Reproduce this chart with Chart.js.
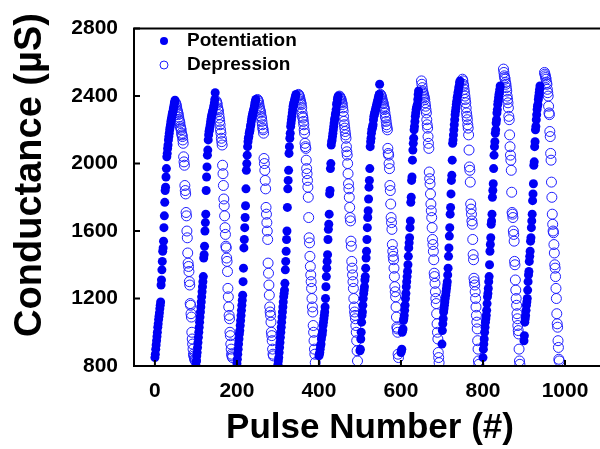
<!DOCTYPE html>
<html lang="en">
  <head>
    <meta charset="UTF-8">
    <title>Conductance vs pulse number</title>
    <style>
      html, body { margin: 0; padding: 0; overflow: hidden; background: #fff; }
      #wrap { width: 612px; height: 449px; position: relative; }
    </style>
  </head>
  <body>
    <div id="wrap"><canvas id="myChart"></canvas></div>

    <script src="https://cdn.jsdelivr.net/npm/chart.js"></script>
    <script>
      // pulse number where each cycle starts; depression starts 50 pulses later
      const cycleStart = [0, 100, 200, 300, 400, 500, 600, 700, 800, 900];
      const depOffset = 50;
      const xTicks = [0, 200, 400, 600, 800, 1000];
      const yTicks = [800, 1200, 1600, 2000, 2400, 2800];

      // potentiation (µS), one array per cycle
      const p1 = [850,870,900,925,950,975,1000,1030,1050,1075,1095,1115,1140,1160,1180,1280,1310,1370,1420,1480,1500,1540,1620,1690,1770,1840,1860,1920,1970,2040,2060,2090,2110,2140,2160,2180,2200,2215,2230,2250,2260,2275,2290,2300,2310,2325,2335,2350,2360,2375];
      const p2 = [805,830,860,880,910,940,970,1000,1030,1060,1090,1120,1150,1180,1210,1240,1270,1300,1330,1440,1460,1510,1600,1650,1700,1840,1920,1980,2050,2080,2140,2170,2190,2200,2215,2230,2250,2265,2280,2290,2300,2310,2320,2330,2345,2360,2380,2420];
      const p3 = [815,840,870,900,930,960,990,1010,1040,1070,1100,1130,1160,1190,1220,1300,1380,1500,1550,1620,1680,1750,1850,1960,2000,2050,2100,2130,2150,2160,2180,2190,2200,2220,2230,2250,2265,2280,2290,2300,2310,2320,2330,2345,2360,2370,2380];
      const p4 = [810,830,850,880,910,940,970,1000,1030,1060,1090,1120,1150,1180,1210,1230,1250,1290,1370,1420,1480,1550,1600,1740,1850,1900,1960,2060,2100,2150,2180,2220,2240,2260,2280,2300,2320,2340,2350,2360,2370,2380,2390,2400,2410];
      const p5 = [860,870,880,900,920,930,960,980,990,1010,1040,1060,1080,1100,1120,1150,1200,1270,1330,1380,1420,1460,1550,1610,1640,1700,1820,1840,1970,2000,2110,2130,2140,2160,2180,2200,2220,2240,2260,2270,2290,2300,2320,2350,2360,2380,2390,2400];
      const p6 = [890,900,960,1000,1060,1100,1120,1160,1200,1230,1250,1270,1310,1330,1380,1440,1480,1550,1620,1680,1720,1790,1860,1900,1970,2100,2130,2150,2180,2200,2210,2220,2230,2260,2280,2290,2300,2310,2320,2330,2340,2350,2360,2370,2380,2390,2400,2410,2470];
      const p7 = [880,890,900,1000,1010,1020,1070,1080,1100,1130,1160,1200,1230,1270,1300,1330,1360,1400,1450,1500,1530,1560,1620,1660,1770,1800,1900,1920,2020,2080,2120,2150,2200,2220,2250,2280,2300,2320,2330,2340,2350,2380,2410,2430];
      const p8 = [930,1010,1050,1080,1120,1140,1160,1180,1200,1220,1240,1260,1280,1300,1340,1380,1450,1500,1570,1620,1700,1740,1820,1900,1930,2020,2120,2140,2170,2200,2230,2260,2290,2310,2330,2350,2370,2390,2400,2420,2430,2450,2460,2480,2490];
      const p9 = [850,900,930,960,1000,1030,1060,1080,1100,1130,1170,1210,1230,1260,1300,1330,1400,1480,1520,1560,1640,1660,1700,1800,1840,1880,1970,2050,2100,2130,2180,2200,2240,2260,2300,2320,2350,2370,2390,2410,2420,2440,2460];
      const p10 = [950,980,1060,1080,1100,1130,1160,1180,1200,1250,1300,1340,1360,1420,1450,1480,1540,1560,1620,1660,1700,1780,1820,1880,1990,2010,2100,2130,2200,2220,2260,2290,2320,2340,2350,2380,2400,2420,2440,2460];

      // depression (µS), one array per cycle
      const d1 = [2360,2355,2345,2335,2320,2310,2300,2290,2275,2260,2250,2240,2220,2210,2200,2180,2170,2160,2140,2120,2040,2010,1990,1870,1840,1820,1710,1690,1600,1560,1470,1410,1390,1360,1300,1280,1170,1160,1110,1090,1000,960,930,900,870,860,850,840,835,830];
      const d2 = [2370,2360,2350,2330,2320,2310,2290,2270,2250,2230,2200,2180,2150,2130,2110,1990,1940,1870,1790,1750,1690,1620,1580,1510,1500,1440,1420,1360,1260,1210,1150,1100,1080,1000,980,930,900,870,860,850];
      const d3 = [2380,2375,2370,2360,2345,2330,2320,2310,2300,2280,2270,2250,2230,2210,2200,2180,2030,2000,1960,1900,1850,1740,1700,1650,1600,1550,1410,1350,1280,1220,1150,1120,1100,1060,1000,980,950,900,870,860];
      const d4 = [2410,2405,2400,2390,2380,2370,2360,2350,2330,2300,2280,2270,2250,2230,2200,2180,2120,2100,2090,2020,1970,1940,1900,1860,1800,1680,1560,1530,1450,1390,1340,1300,1260,1200,1150,1120,1040,1000,950,900,870,820];
      const d5 = [2400,2395,2390,2385,2380,2370,2360,2350,2330,2310,2280,2250,2230,2210,2190,2170,2150,2100,2070,2050,2000,1940,1880,1850,1800,1740,1680,1660,1540,1510,1420,1380,1340,1300,1260,1200,1150,1120,1100,1080,1040,1000,950,890,830];
      const d6 = [2410,2405,2400,2390,2380,2370,2360,2355,2340,2330,2320,2300,2280,2270,2250,2230,2215,2200,2090,2060,2050,2000,1970,1870,1840,1760,1680,1650,1610,1520,1480,1450,1430,1380,1330,1270,1240,1210,1150,1090,1030,1020,1000,870,850];
      const d7 = [2490,2470,2450,2430,2420,2410,2400,2390,2380,2360,2340,2320,2300,2260,2230,2210,2160,2120,2090,1950,1910,1880,1820,1760,1720,1680,1620,1550,1520,1480,1430,1350,1330,1290,1240,1200,1170,1110,1050,1000,960,880,850,820];
      const d8 = [2500,2490,2470,2460,2440,2420,2400,2380,2360,2330,2300,2280,2260,2230,2210,2170,2080,1980,1960,1890,1760,1730,1700,1660,1640,1550,1460,1430,1320,1300,1280,1240,1200,1150,1100,1060,1020,950,900,830,810];
      const d9 = [2560,2540,2520,2510,2500,2480,2470,2450,2430,2400,2380,2360,2330,2280,2260,2170,2100,2050,2020,1960,1830,1710,1700,1680,1600,1580,1540,1420,1400,1310,1250,1200,1160,1110,1080,1040,1010,990,900,830,810];
      const d10 = [2540,2530,2520,2510,2500,2480,2470,2440,2420,2400,2340,2300,2290,2190,2160,2060,2020,1890,1800,1700,1640,1600,1590,1520,1470,1400,1380,1330,1260,1200,1110,1050,1030,950,910,840,830];

      const potCycles = [p1, p2, p3, p4, p5, p6, p7, p8, p9, p10];
      const depCycles = [d1, d2, d3, d4, d5, d6, d7, d8, d9, d10];

      const yTitle = "Conductance (µS)";
      const xTitle = "Pulse Number (#)";

      function toPoints(cycles, offset) {
        const pts = [];
        cycles.forEach((vals, k) => {
          vals.forEach((v, i) => pts.push({ x: cycleStart[k] + offset + i, y: v }));
        });
        return pts;
      }

      const FONT = "'Liberation Sans', Arial, sans-serif";
      const BLUE = "rgb(0, 0, 245)";

      // frame, inward ticks, y title and the legend drawn on the canvas
      const framePlugin = {
        id: "frame",
        afterDraw(chart) {
          const { ctx, chartArea: a, scales } = chart;
          ctx.save();
          ctx.strokeStyle = "#000";
          ctx.lineWidth = 2;
          ctx.beginPath();
          ctx.moveTo(a.right + 10, a.top);
          ctx.lineTo(a.left, a.top);
          ctx.lineTo(a.left, a.bottom);
          ctx.lineTo(a.right + 10, a.bottom);
          ctx.stroke();
          ctx.beginPath();
          yTicks.forEach(v => {
            const y = scales.y.getPixelForValue(v);
            ctx.moveTo(a.left, y);
            ctx.lineTo(a.left + 6, y);
          });
          xTicks.forEach(v => {
            const x = scales.x.getPixelForValue(v);
            ctx.moveTo(x, a.bottom);
            ctx.lineTo(x, a.bottom - 6);
          });
          ctx.stroke();

          // y title, a little above the plot's middle as in the original
          ctx.save();
          ctx.translate(31, 175);
          ctx.rotate(-Math.PI / 2);
          ctx.font = "bold 38px " + FONT;
          ctx.textAlign = "center";
          ctx.textBaseline = "middle";
          ctx.fillStyle = "#000";
          ctx.fillText(yTitle, 0, 0);
          ctx.restore();

          // legend
          const items = chart.data.datasets;
          ctx.font = "bold 19px " + FONT;
          ctx.textBaseline = "middle";
          items.forEach((ds, i) => {
            const y = 41 + i * 24;
            ctx.beginPath();
            ctx.arc(164, y, 4, 0, Math.PI * 2);
            if (ds.backgroundColor !== "transparent") {
              ctx.fillStyle = ds.backgroundColor;
              ctx.fill();
            } else {
              ctx.strokeStyle = ds.borderColor;
              ctx.lineWidth = 1;
              ctx.stroke();
            }
            ctx.fillStyle = "#000";
            ctx.fillText(ds.label, 187, y);
          });
          ctx.restore();
        }
      };

      const tickFont = { family: FONT, size: 21, weight: "bold" };
      const plain = v => String(v);

      document.addEventListener("DOMContentLoaded", function () {
        const ctx = document.getElementById("myChart").getContext("2d");
        new Chart(ctx, {
          type: "scatter",
          data: {
            datasets: [
              {
                label: "Potentiation",
                data: toPoints(potCycles, 0),
                backgroundColor: BLUE,
                borderColor: BLUE,
                borderWidth: 0,
                pointRadius: 4.5,
                clip: 0,
              },
              {
                label: "Depression",
                data: toPoints(depCycles, depOffset),
                backgroundColor: "transparent",
                borderColor: "rgb(30, 30, 255)",
                borderWidth: 1,
                pointRadius: 5,
                clip: 0,
              },
            ],
          },
          options: {
            responsive: true,
            maintainAspectRatio: false,
            animation: false,
            layout: { padding: { left: 0, right: 6, top: 20, bottom: 0 } },
            plugins: { legend: { display: false }, tooltip: { enabled: false } },
            scales: {
              x: {
                type: "linear",
                min: -51,
                max: 1100,
                afterBuildTicks: s => { s.ticks = xTicks.map(v => ({ value: v })); },
                afterFit: s => { s.height = 83; },
                grid: { display: false, drawTicks: false },
                border: { display: false },
                ticks: { padding: 13, color: "#000", font: tickFont, callback: plain },
                title: {
                  display: true,
                  text: xTitle,
                  color: "#000",
                  padding: { top: 0, bottom: 0 },
                  font: { family: FONT, size: 35, weight: "bold" },
                },
              },
              y: {
                type: "linear",
                min: 800,
                max: 2800,
                afterBuildTicks: s => { s.ticks = yTicks.map(v => ({ value: v })); },
                afterFit: s => { s.width = 134; },
                grid: { display: false, drawTicks: false },
                border: { display: false },
                ticks: { padding: 16, color: "#000", font: tickFont, callback: plain },
                title: { display: false },
              },
            },
          },
          plugins: [framePlugin],
        });
      });
    </script>
  </body>
</html>
